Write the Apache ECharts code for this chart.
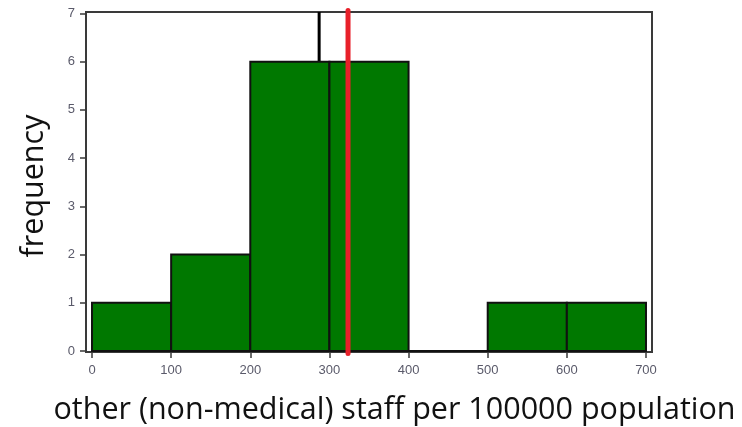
<!DOCTYPE html>
<html><head><meta charset="utf-8">
<script src="https://cdn.jsdelivr.net/npm/echarts@6/dist/echarts.min.js"></script>
<style>html,body{margin:0;padding:0;background:#fff}#c{width:742px;height:427px}</style>
</head><body><div id="c"></div>
<script>
// histogram bins
const binStarts = [0, 100, 200, 300, 400, 500, 600];
const binEnds   = [100, 200, 300, 400, 500, 600, 700];
const counts    = [1, 2, 6, 6, 0, 1, 1];
const xTicks = [0, 100, 200, 300, 400, 500, 600, 700];
const yTicks = [0, 1, 2, 3, 4, 5, 6, 7];
const medianValue = 287;  // black line
const meanValue = 323.5;  // red line
const xTitle = 'other (non-medical) staff per 100000 population';
const yTitle = 'frequency';

const chart = echarts.init(document.getElementById('c'));
const binData = binStarts.map((s, i) => [s, binEnds[i], counts[i]]);
chart.setOption({
  animation: false,
  grid: {left: 86, right: 90, top: 12, bottom: 75, outerBoundsMode: 'none', containLabel: false,
    show: true, borderColor: '#3a3a3a', borderWidth: 2, backgroundColor: '#fff'},
  xAxis: {
    type: 'value', min: -7.6, max: 707.6,
    splitLine: {show: false},
    axisLine: {show: true, onZero: false, lineStyle: {color: '#3a3a3a', width: 2}},
    axisTick: {show: true, length: 6, customValues: xTicks, lineStyle: {color: '#3a3a3a', width: 1.5}},
    axisLabel: {customValues: xTicks, color: '#5a5a6a', fontSize: 13, fontFamily: 'Liberation Sans', margin: 12},
    name: xTitle, nameLocation: 'middle', nameGap: 43,
    nameTextStyle: {color: '#111', fontSize: 30.5, fontFamily: 'Open Sans', padding: [0, 0, 0, 51]}
  },
  yAxis: {
    type: 'value', min: -0.02, max: 7.03,
    splitLine: {show: false},
    axisLine: {show: true, onZero: false, lineStyle: {color: '#3a3a3a', width: 2}},
    axisTick: {show: true, length: 6, customValues: yTicks, lineStyle: {color: '#3a3a3a', width: 1.5}},
    axisLabel: {customValues: yTicks, color: '#5a5a6a', fontSize: 13, fontFamily: 'Liberation Sans', margin: 11},
    name: yTitle, nameLocation: 'middle', nameGap: 36,
    nameTextStyle: {color: '#111', fontSize: 30.5, fontFamily: 'Open Sans', padding: [0, 8, 0, 0]}
  },
  series: [
    {
      type: 'custom', z: 1,
      data: [[medianValue, 0, 7.03]],
      renderItem: (p, api) => {
        const a = api.coord([api.value(0), api.value(1)]);
        const b = api.coord([api.value(0), api.value(2)]);
        return {type: 'line', shape: {x1: a[0], y1: a[1], x2: b[0], y2: b[1]}, style: {stroke: '#000', lineWidth: 3}};
      }
    },
    {
      type: 'custom', z: 2,
      data: binData,
      renderItem: (p, api) => {
        const a = api.coord([api.value(0), api.value(2)]);
        const b = api.coord([api.value(1), 0]);
        return {type: 'rect', shape: {x: a[0], y: a[1], width: b[0] - a[0], height: b[1] - a[1]},
          style: {fill: '#007800', stroke: '#111', lineWidth: 2}};
      }
    },
    {
      type: 'custom', z: 3, clip: false,
      data: [[meanValue, -0.05, 7.06]],
      renderItem: (p, api) => {
        const a = api.coord([api.value(0), api.value(1)]);
        const b = api.coord([api.value(0), api.value(2)]);
        return {type: 'line', shape: {x1: a[0], y1: a[1], x2: b[0], y2: b[1]},
          style: {stroke: '#e8202a', lineWidth: 5, lineCap: 'round'}};
      }
    }
  ]
});
</script></body></html>
